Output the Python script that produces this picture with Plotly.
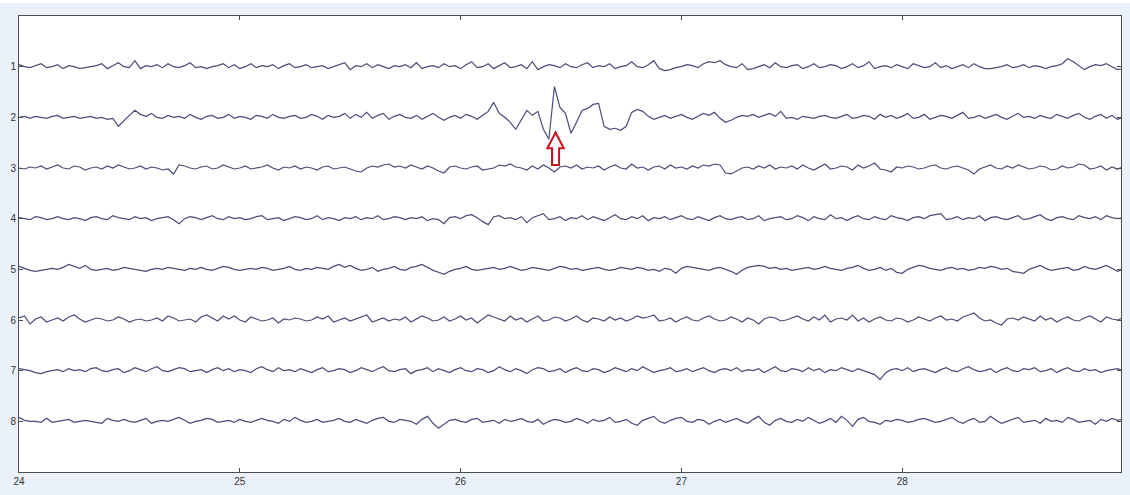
import plotly.graph_objects as go

# time axis (s): 24.000 ... 29.000 in 0.025 s steps
T_START = 24.0
T_STEP = 0.025

channels = ["1", "2", "3", "4", "5", "6", "7", "8"]
x_ticks = [24, 25, 26, 27, 28]

# amplitudes (µV, positive = up)
ch1 = [2,0,-1,1,3,-1,0,2,-2,1, 0,-2,-1,0,1,3,-2,1,4,0, -1,6,-2,1,0,2,-1,3,0,-1,
       1,4,-1,0,-2,0,1,3,-1,2, -2,0,3,-1,1,0,2,-2,1,3, -1,0,2,-1,0,1,-2,0,2,4,
       -3,1,0,3,-1,2,0,-2,1,0, 2,-1,4,-2,0,1,-1,3,0,1, -2,2,5,-1,0,3,-2,1,4,-1,
       0,2,-2,5,-3,0,2,1,-1,3, 0,-1,2,4,-1,1,0,3,-2,0, 1,5,0,-1,2,6,-2,-4,-3,-1,
       0,2,1,-1,3,5,4,6,2,0, -1,3,-3,-2,0,2,-1,4,0,-1, 1,2,-2,0,3,-1,0,2,1,-2,
       0,3,-1,1,5,-2,0,1,-1,2, 0,-2,3,1,-1,0,4,-1,1,-2, 0,2,-1,3,0,-2,-2,-1,0,2,
       -1,0,2,-1,1,0,-2,0,1,3, 8,5,1,-3,0,2,1,3,0,-3, -2]
ch2 = [0,1,-1,1,0,-1,1,2,-1,0, 1,-1,0,1,-1,0,-2,-1,-9,-4, 2,7,3,1,4,0,-1,2,0,1,
       -1,3,0,-2,1,2,-1,0,3,-1, 1,0,-2,2,1,-1,3,0,-1,1, 2,-1,0,3,1,-2,2,0,1,4,
       -1,3,0,5,-1,2,4,-2,1,3, 0,-1,2,-2,1,4,0,-3,0,2, -1,3,1,-2,2,6,15,4,0,-5,
       -12,-2,7,2,6,-12,-22,31,10,4, -16,-5,7,9,13,14,-9,-12,-11,-13, -9,5,8,6,1,-2,0,2,-1,1,
       3,0,-2,1,4,2,5,-1,-5,-3, 0,2,1,3,0,2,4,1,6,-1, 0,-2,1,0,-1,1,2,0,-1,1,
       3,-1,0,2,1,-2,3,0,2,-1, 1,4,-1,0,3,-2,0,2,1,-1, 2,5,-1,0,2,-1,1,3,0,-2,
       1,4,0,1,-1,2,0,-1,3,1, -1,2,4,0,-2,1,3,-1,2,-2, 0]
ch3 = [0,-1,1,0,2,-1,1,3,0,-1, 2,1,-2,0,1,-1,2,0,3,1, -1,0,2,-1,1,0,-2,-1,-6,3,
       2,0,-1,1,2,-1,0,3,1,-1, 0,2,-1,0,1,3,0,-2,1,0, 2,-1,1,0,-2,1,2,-1,0,1,
       -1,-3,-4,0,2,1,3,4,1,2, 0,3,1,-1,2,0,-3,-5,1,2, 0,-1,1,2,-2,-1,0,3,2,4,
       1,0,-2,2,-1,3,0,-4,1,2, 0,3,-1,1,0,2,-2,1,3,0, -1,4,0,1,-2,1,2,-1,3,0,
       1,-1,2,0,3,2,4,3,-5,-6, -3,0,1,-1,2,0,3,-1,1,0, 2,-1,3,0,-2,1,4,-1,0,2,
       1,-2,3,0,2,5,-1,-2,-4,1, 0,2,1,-1,0,2,3,0,-1,1, 2,0,-2,-6,-1,1,3,0,-1,2,
       0,3,1,-1,0,2,1,-2,-1,2, 0,1,4,3,-1,0,2,-2,1,-1, 1]
ch4 = [1,0,-1,2,1,-1,0,2,0,-1, 1,0,-2,1,2,0,-1,3,1,0, -1,2,0,1,-2,0,1,2,-1,-5,
       0,2,1,-1,1,3,0,-1,2,0, 1,-1,0,2,3,-1,0,1,-2,0, 2,1,-1,0,3,-1,1,0,-2,1,
       0,2,-1,1,0,3,-1,0,2,1, -1,1,0,2,-2,0,-1,-5,1,2, 0,3,4,1,-3,-6,2,3,0,1,
       -1,2,-4,1,3,5,-1,0,2,-2, 1,0,3,-1,2,0,-2,1,4,0, -1,2,0,3,-2,1,0,2,-1,1,
       3,0,-1,2,0,-2,1,3,0,-1, 1,2,-1,0,3,-2,0,1,2,-1, 0,3,1,-2,2,0,-1,4,0,1,
       -2,1,3,0,-1,2,0,-1,3,1, 0,-2,1,2,0,3,4,5,-1,0, 2,-1,1,0,3,-2,1,2,0,-1,
       1,3,-1,0,2,4,0,-2,1,2, 0,-1,3,1,0,2,-1,3,1,0, 1]
ch5 = [3,1,-1,-2,-1,0,1,0,2,5, 3,1,4,0,-1,0,1,-1,0,2, 1,0,-1,-2,0,1,0,2,1,0,
       -1,1,0,2,0,-1,1,3,2,0, -1,0,1,0,2,1,-1,0,1,3, 0,-1,1,0,2,1,0,3,5,2,
       4,1,-1,0,2,-2,0,1,3,0, -1,2,3,5,2,-1,-3,-5,-2,0, 1,3,0,-1,0,1,2,0,1,3,
       1,-1,0,2,1,0,-1,1,3,2, 0,1,-1,0,1,2,0,-1,0,2, 1,0,2,1,-1,0,-2,1,0,-4,
       1,3,2,1,0,-1,1,2,0,-2, -5,-1,2,3,4,3,1,2,0,1, -1,0,1,2,0,1,3,1,0,-1,
       1,2,4,1,-1,0,2,-1,1,-3, -4,0,2,4,3,1,0,-1,1,2, 0,1,-1,0,2,1,3,2,0,1,
       -2,-3,-4,0,2,4,1,-1,0,1, 2,-1,0,3,1,0,2,4,1,-2, 0]
ch6 = [2,4,-4,1,3,-2,0,2,-1,3, 5,1,-2,0,2,1,-1,0,3,1, -2,0,1,-1,0,2,-1,4,2,-1,
       0,1,-2,3,5,2,-1,4,1,4, 0,-2,3,1,-1,0,2,-3,1,0, 2,1,-1,0,3,1,4,-2,0,2,
       -1,1,3,5,-2,0,2,-1,1,0, 3,-2,1,4,2,-1,0,3,-1,1, 4,0,2,-3,1,5,3,1,-1,4,
       0,2,-2,1,4,-1,0,3,2,-1, 1,4,0,-2,2,1,-1,3,0,2, -1,1,4,2,3,5,-1,0,2,-2,
       1,3,0,-1,2,4,1,-1,0,3, 1,-2,2,0,-4,1,3,2,-1,0, 2,4,1,-1,3,0,5,-2,1,2,
       0,5,-1,2,-2,1,3,0,-1,2, 1,-2,0,3,1,-1,2,4,0,1, -1,3,5,7,2,-1,0,-3,-5,1,
       2,0,3,1,-1,4,0,2,-2,1, 3,0,-1,2,4,1,-2,3,1,0, 2]
ch7 = [2,1,0,-2,-3,-1,0,1,-1,2, 0,1,-1,2,3,0,-1,1,2,-2, 0,3,1,-1,2,4,0,-1,1,3,
       2,-1,0,1,-2,1,3,0,2,-1, 1,0,-2,2,4,1,-1,3,0,1, -1,2,0,-2,1,3,-1,0,2,1,
       -2,0,3,1,-1,2,4,0,-1,1, 2,-3,0,1,3,-1,2,0,-2,1, 3,0,-1,2,1,-2,0,4,1,-1,
       2,0,-3,1,3,2,-1,0,2,-2, 1,3,0,-1,2,1,-2,0,3,1, -1,2,0,4,1,-2,0,1,3,-1,
       0,2,-1,1,3,0,-2,1,2,0, 3,-1,1,0,2,-2,1,4,0,-1, 2,1,-1,3,0,2,-2,1,0,3,
       1,-1,2,0,-2,-4,-9,-2,1,2, 0,3,-1,1,2,0,-2,1,3,0, -1,2,4,1,-1,0,2,-2,1,3,
       0,-1,2,1,3,-1,0,2,-2,1, 3,0,-1,2,0,1,-2,0,1,2, 0]
ch8 = [4,1,0,0,-1,3,-1,0,1,2, -1,0,1,0,-1,-2,3,1,0,2, 0,-1,1,3,-2,0,1,0,2,4,
       1,-2,0,1,3,2,-1,0,1,-1, 2,0,-1,1,3,1,0,-2,2,0, 4,1,-1,0,2,-1,0,1,3,0,
       -1,2,0,-2,1,3,4,0,-1,2, 1,0,-3,2,5,-2,-7,-3,1,2, 0,-1,2,3,-1,0,1,-2,2,0,
       1,3,0,-1,2,-3,0,2,1,-1, 0,3,1,-2,2,0,1,4,-1,0, 2,-2,-4,1,3,5,0,-2,1,3,
       4,0,-1,2,1,-3,0,2,-1,1, 3,0,-2,2,5,-1,-4,1,3,0, -1,2,0,4,1,-2,0,3,-1,5,
       1,-5,2,4,0,-1,-3,1,0,2, 1,-1,0,2,3,1,-1,0,2,4, 0,-2,1,3,-1,0,5,1,-2,0,
       2,4,-1,0,1,-2,3,0,1,-1, 4,2,-1,0,1,-3,2,0,3,1, 2]

series = [ch1, ch2, ch3, ch4, ch5, ch6, ch7, ch8]
UV_PER_CHANNEL = 51.0  # vertical spacing between channel baselines (µV)

TRACE_COLOR = "#484c78"
BG = "#eaf1fa"

fig = go.Figure()
for i, vals in enumerate(series):
    t = [T_START + k * T_STEP for k in range(len(vals))]
    y = [(i + 1) - v / UV_PER_CHANNEL for v in vals]
    fig.add_trace(go.Scatter(x=t, y=y, mode="lines",
                             line=dict(color=TRACE_COLOR, width=1.2),
                             showlegend=False, hoverinfo="skip"))

# red outlined arrow marking the spike on channel 2
ax, ay = 26.430, 2.30      # tip (data units)
hw, sw = 0.037, 0.016      # head half-width, shaft half-width (s)
hh, sl = 0.31, 0.64        # head height, total length (channel units)
path = (f"M {ax} {ay} L {ax+hw} {ay+hh} L {ax+sw} {ay+hh} L {ax+sw} {ay+sl} "
        f"L {ax-sw} {ay+sl} L {ax-sw} {ay+hh} L {ax-hw} {ay+hh} Z")
fig.add_shape(type="path", path=path, xref="x", yref="y",
              line=dict(color="#c8141c", width=2), fillcolor="white", layer="above")

# thin white strip at the very top of the page
fig.add_shape(type="rect", xref="paper", yref="paper", x0=-0.1, x1=1.1,
              y0=1 + 13 / 458, y1=1 + 20 / 458, fillcolor="white", line=dict(width=0),
              layer="below")

axis_common = dict(showgrid=False, zeroline=False, showline=True, linecolor="#4d4d4d",
                   linewidth=1, mirror="ticks", ticks="inside", ticklen=4,
                   tickcolor="#4d4d4d", tickfont=dict(family="Liberation Sans, Arial",
                                                       size=10, color="#333333"))

fig.update_layout(
    width=1130, height=495,
    margin=dict(l=19, r=8, t=16, b=21),
    paper_bgcolor=BG, plot_bgcolor="white",
    xaxis=dict(range=[24, 28.991], tickvals=x_ticks, ticktext=[str(v) for v in x_ticks],
               **axis_common),
    yaxis=dict(range=[9, 0], tickvals=list(range(1, 9)), ticktext=channels,
               **axis_common),
)

fig.write_html("out.html")
